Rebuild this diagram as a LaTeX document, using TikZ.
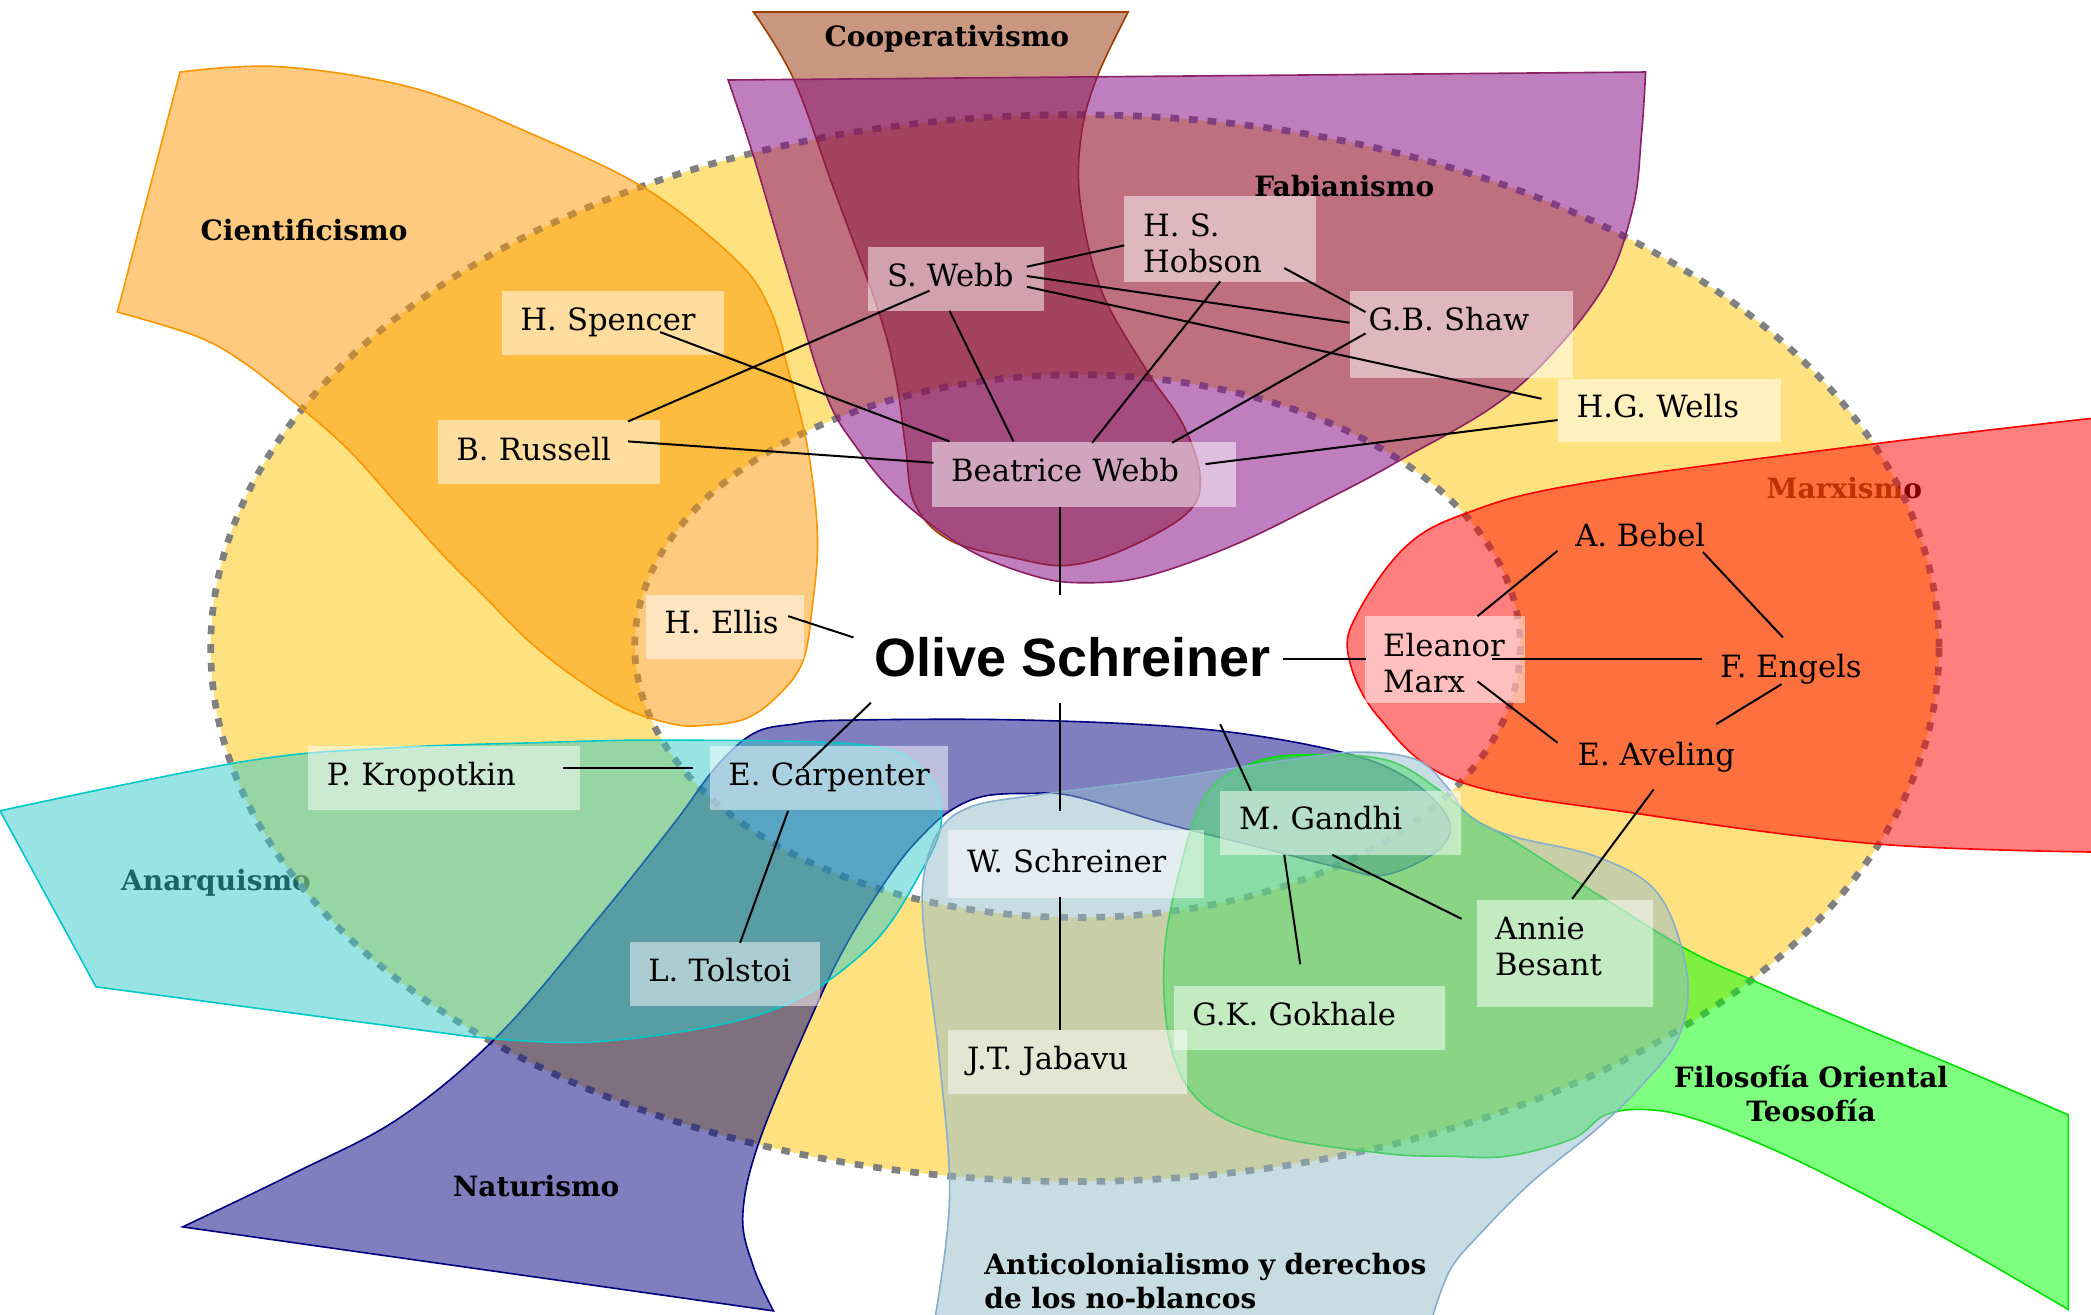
\documentclass[tikz,border=0pt]{standalone}
\usepackage{fontspec}
\setmainfont{DejaVu Serif}
\newfontfamily\olivefam{Liberation Sans}
\usetikzlibrary{calc}
\newcommand\namefont{\fontsize{23}{27}\selectfont}
\newcommand\labfont{\bfseries\fontsize{21}{25.5}\selectfont}
\newcommand\olivefont{\olivefam\bfseries\fontsize{40.5}{48}\selectfont}
\definecolor{ringgold}{RGB}{255,199,0}
\definecolor{ringdashc}{RGB}{128,128,128}
\definecolor{ciencol}{RGB}{252,150,0}
\definecolor{cienline}{RGB}{250,150,0}
\definecolor{coopcol}{RGB}{148,48,0}
\definecolor{coopline}{RGB}{160,60,0}
\definecolor{fabcol}{RGB}{128,0,128}
\definecolor{fabline}{RGB}{140,30,100}
\definecolor{marxcol}{RGB}{255,0,0}
\definecolor{anarcol}{RGB}{51,201,201}
\definecolor{anarline}{RGB}{0,200,200}
\definecolor{natcol}{RGB}{0,0,128}
\definecolor{oricol}{RGB}{0,255,0}
\definecolor{oriline}{RGB}{0,225,0}
\definecolor{anticol}{RGB}{147,187,203}
\definecolor{antiline}{RGB}{135,175,205}
\begin{document}
\begin{tikzpicture}[x=1pt,y=-1pt,
  blob/.style={line width=1.2pt, fill opacity=0.5},
  ringdash/.style={draw=ringdashc, line width=5pt, dash pattern=on 6.5pt off 7.5pt},
  nb/.style={fill=white, fill opacity=0.5, text opacity=1, anchor=north west,
    inner xsep=14pt, inner ysep=0pt, align=left, font=\namefont},
  plain/.style={font=\namefont, anchor=base, inner sep=0pt},
  lab/.style={font=\labfont, anchor=base, inner sep=0pt},
  conn/.style={line width=1.5pt, draw=black}]
\useasboundingbox (0,0) rectangle (1568,986);
\fill[white] (0,0) rectangle (1568,986);

% labels lying under the coloured layers
\node[lab] (lmarx) at (1383,373.5) {Marxismo};
\node[lab] (lanar) at (162,667.5) {Anarquismo};

% ring
\fill[ringgold, fill opacity=0.5, even odd rule] (806,486) ellipse [x radius=648, y radius=400]
  (808,484.5) ellipse [x radius=332, y radius=203.5];
\draw[ringdash] (806,486) ellipse [x radius=648, y radius=400];
\draw[ringdash] (808,484.5) ellipse [x radius=332, y radius=203.5];

% Cientificismo
\filldraw[blob, fill=ciencol, draw=cienline] (88,234) -- (135,54) -- plot[smooth, tension=0.6] coordinates {(135,54) (210,50) (310,66) (400,101) (485,142) (552,195) (577,231) (591,277) (606,338) (613,403) (609,456) (602,496) (584,521) (559,539) (527,544) (505,543) (470,532) (434,510) (398,482) (362,446) (333,417) (297,377) (262,338) (226,306) (183,272) (147,252) (88,234)} -- cycle;

% Cooperativismo
\filldraw[blob, fill=coopcol, draw=coopline] (565,9) -- (846,9) -- plot[smooth, tension=0.6] coordinates {(846,9) (823,57) (811,100) (810,151) (826,218) (860,278) (887,318) (900,358) (890,385) (843,412) (800,424) (759,418) (712,405) (686,378) (679,335) (672,285) (659,234) (625,141) (595,59) (565,9)} -- cycle;

% Fabianismo
\filldraw[blob, fill=fabcol, draw=fabline] (546,60) -- (1234,54) -- plot[smooth, tension=0.6] coordinates {(1234,54) (1231,100) (1224,158) (1199,221) (1134,294) (1050,345) (994,375) (927,408) (860,432) (813,437) (776,432) (726,412) (676,375) (642,335) (619,295) (592,208) (565,117) (546,60)} -- cycle;

% Marxismo
\filldraw[blob, fill=marxcol, draw=marxcol] (1575,313) -- plot[smooth, tension=0.6] coordinates {(1575,313) (1404,333) (1184,363) (1099,385) (1054,410) (1019,458) (1011,491) (1034,538) (1094,586) (1234,611) (1409,633) (1575,639)} -- cycle;

% Naturismo
\filldraw[blob, fill=natcol, draw=natcol] (137,920) -- plot[smooth, tension=0.6] coordinates {(137,920) (220,880) (300,838) (375,775) (450,687) (505,618) (537,575) (565,550) (595,543) (635,540) (771,540) (905,547) (1006,564) (1056,584) (1086,614) (1079,637) (1039,656) (1006,651) (939,634) (872,617) (805,597) (771,595) (738,597) (714,607) (694,624) (671,651) (637,704) (610,759) (570,854) (557,911) (565,950) (580,983)} -- cycle;

% Anarquismo
\filldraw[blob, fill=anarcol, draw=anarline] (72,740) -- (0,608) -- plot[smooth, tension=0.6] coordinates {(0,608) (183,571) (290,561) (400,557) (505,555) (650,559) (695,580) (706,615) (690,655) (650,712) (575,759) (450,781) (350,777)} -- cycle;

% Filosofia Oriental / Teosofia
\filldraw[blob, fill=oricol, draw=oriline] (1551,836) -- (1551,982) -- plot[smooth, tension=0.6] coordinates {(1551,982) (1470,935) (1393,893) (1332,863) (1271,839) (1234,832) (1204,836) (1179,854) (1130,867) (1087,867) (1039,865) (955,852) (902,828) (878,785) (873,718) (885,651) (905,595) (940,572) (979,566) (1040,570) (1080,593) (1105,614) (1134,630) (1200,672) (1265,712) (1314,735) (1393,769) (1470,801) (1551,836)} -- cycle;

% Anticolonialismo
\filldraw[blob, fill=anticol, draw=antiline] (700,995) -- plot[smooth, tension=0.6] coordinates {(700,995) (712,900) (705,800) (693,700) (693,655) (705,622) (728,605) (771,597) (872,584) (972,569) (1022,564) (1063,570) (1085,590) (1102,612) (1134,627) (1199,643) (1244,671) (1265,730) (1259,777) (1231,814) (1198,846) (1149,886) (1112,923) (1087,953) (1072,995)} -- cycle;

% group labels
\node[lab] (lcien) at (228,180.5) {Cientificismo};
\node[lab] (lcoop) at (710,34.5) {Cooperativismo};
\node[lab] (lfab) at (1008,147.5) {Fabianismo};
\node[lab] (lnat) at (402,897.5) {Naturismo};
\node[lab, text width=260pt, align=center] (lori) at (1358,815.5) {Filosofía Oriental\\Teosofía};
\node[lab, anchor=base west, text width=380pt, align=left] (lanti) at (738,955.5) {Anticolonialismo y derechos\\de los no-blancos};

% name boxes
\node[nb, text width=139pt, text height=30pt, text depth=18pt] (hspencer) at (376,218) {\mbox{H. Spencer}};
\node[nb, text width=139pt, text height=30pt, text depth=18pt] (brussell) at (328,315) {\mbox{B. Russell}};
\node[nb, text width=104pt, text height=30pt, text depth=18pt] (swebb) at (651,185) {\mbox{S. Webb}};
\node[nb, text width=116pt, text height=30pt, text depth=34pt] (hobson) at (843,147) {H. S.\\Hobson};
\node[nb, text width=139pt, text height=30pt, text depth=35pt] (gbshaw) at (1012,218) {\mbox{G.B. Shaw}};
\node[nb, text width=139pt, text height=29pt, text depth=18pt] (hgwells) at (1168,284) {\mbox{H.G. Wells}};
\node[nb, text width=200pt, text height=30pt, text depth=19pt] (bwebb) at (699,331) {\mbox{Beatrice Webb}};
\node[nb, text width=91pt, text height=29pt, text depth=19pt] (hellis) at (484,446) {\mbox{H. Ellis}};
\node[nb, text width=176pt, text height=30pt, text depth=18pt] (kropotkin) at (231,559) {\mbox{P. Kropotkin}};
\node[nb, text width=151pt, text height=30pt, text depth=18pt] (carpenter) at (532,559) {\mbox{E. Carpenter}};
\node[nb, text width=164pt, text height=32pt, text depth=19pt] (wschreiner) at (711,622) {\mbox{W. Schreiner}};
\node[nb, text width=152pt, text height=29pt, text depth=19pt] (gandhi) at (915,593) {\mbox{M. Gandhi}};
\node[nb, text width=115pt, text height=30pt, text depth=18pt] (tolstoi) at (472,706) {\mbox{L. Tolstoi}};
\node[nb, text width=175pt, text height=30pt, text depth=18pt] (gokhale) at (880,739) {\mbox{G.K. Gokhale}};
\node[nb, text width=151pt, text height=30pt, text depth=18pt] (jabavu) at (711,772) {\mbox{J.T. Jabavu}};
\node[nb, text width=92pt, text height=30pt, text depth=35pt] (eleanor) at (1023,462) {Eleanor\\Marx};
\node[nb, text width=104pt, text height=29pt, text depth=51pt] (besant) at (1107,675) {Annie\\Besant};
\node[plain] (bebel) at (1230,410) {A. Bebel};
\node[plain] (engels) at (1343,508) {F. Engels};
\node[plain] (aveling) at (1242,574) {E. Aveling};
\node[font=\olivefont, anchor=base, inner sep=0pt] (olive) at (804,507) {Olive Schreiner};

% connectors
\draw[conn] ([xshift=119pt,yshift=-15pt]swebb.north west) -- ([yshift=-37pt]hobson.north west);
\draw[conn] ([xshift=120pt,yshift=-54pt]hobson.north west) -- ([xshift=12pt,yshift=-16pt]gbshaw.north west);
\draw[conn] ([xshift=119pt,yshift=-22pt]swebb.north west) -- ([yshift=-24pt]gbshaw.north west);
\draw[conn] ([xshift=119pt,yshift=-30pt]swebb.north west) -- ([xshift=-12pt,yshift=-15pt]hgwells.north west);
\draw[conn] ([xshift=46pt,yshift=-33pt]swebb.north west) -- ([xshift=143pt,yshift=-1pt]brussell.north west);
\draw[conn] ([xshift=61pt,yshift=-48pt]swebb.north west) -- ([xshift=61pt]bwebb.north west);
\draw[conn] ([xshift=119pt,yshift=-31pt]hspencer.north west) -- ([xshift=13pt]bwebb.north west);
\draw[conn] ([xshift=143pt,yshift=-16pt]brussell.north west) -- ([xshift=1pt,yshift=-16pt]bwebb.north west);
\draw[conn] ([xshift=72pt,yshift=-64pt]hobson.north west) -- ([xshift=120pt,yshift=-1pt]bwebb.north west);
\draw[conn] ([xshift=12pt,yshift=-32pt]gbshaw.north west) -- ([xshift=180pt,yshift=-1pt]bwebb.north west);
\draw[conn] ([yshift=-31pt]hgwells.north west) -- ([xshift=205pt,yshift=-17pt]bwebb.north west);
\draw[conn] ([xshift=96pt,yshift=-49pt]bwebb.north west) -- ([xshift=-9pt,yshift=61pt]olive.base);
\draw[conn] ([xshift=107pt,yshift=-16pt]hellis.north west) -- ([xshift=-164pt,yshift=29pt]olive.base);
\draw[conn] ([xshift=158pt,yshift=13pt]olive.base) -- ([xshift=1pt,yshift=-32pt]eleanor.north west);
\draw[conn] ([xshift=96pt,yshift=-32pt]eleanor.north west) -- ([xshift=-67pt,yshift=14pt]engels.base);
\draw[conn] ([xshift=85pt]eleanor.north west) -- ([xshift=-62pt,yshift=-3pt]bebel.base);
\draw[conn] ([xshift=47pt,yshift=-4pt]bebel.base) -- ([xshift=-6pt,yshift=30pt]engels.base);
\draw[conn] ([xshift=85pt,yshift=-49pt]eleanor.north west) -- ([xshift=-74pt,yshift=17pt]aveling.base);
\draw[conn] ([xshift=-7pt,yshift=-5pt]engels.base) -- ([xshift=45pt,yshift=31pt]aveling.base);
\draw[conn] ([xshift=-2pt,yshift=-18pt]aveling.base) -- ([xshift=72pt,yshift=1pt]besant.north west);
\draw[conn] ([xshift=-151pt,yshift=-20pt]olive.base) -- ([xshift=70pt,yshift=-17pt]carpenter.north west);
\draw[conn] ([xshift=191pt,yshift=-17pt]kropotkin.north west) -- ([xshift=-12pt,yshift=-17pt]carpenter.north west);
\draw[conn] ([xshift=59pt,yshift=-49pt]carpenter.north west) -- ([xshift=83pt,yshift=-1pt]tolstoi.north west);
\draw[conn] ([xshift=-9pt,yshift=-20pt]olive.base) -- ([xshift=84pt,yshift=14pt]wschreiner.north west);
\draw[conn] ([xshift=84pt,yshift=-51pt]wschreiner.north west) -- ([xshift=84pt]jabavu.north west);
\draw[conn] ([xshift=111pt,yshift=-36pt]olive.base) -- ([xshift=23pt]gandhi.north west);
\draw[conn] ([xshift=48pt,yshift=-48pt]gandhi.north west) -- ([xshift=95pt,yshift=16pt]gokhale.north west);
\draw[conn] ([xshift=84pt,yshift=-48pt]gandhi.north west) -- ([xshift=-11pt,yshift=-14pt]besant.north west);
\end{tikzpicture}
\end{document}
